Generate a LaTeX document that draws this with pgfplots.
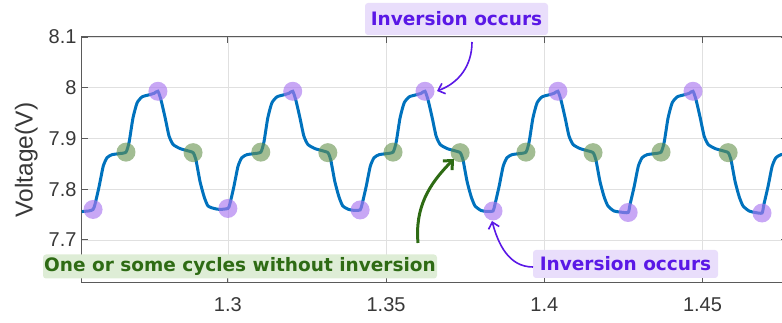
\documentclass[border=0pt]{standalone}
\usepackage{pgfplots}
\pgfplotsset{compat=1.18}
\usepackage{pgfplotstable}
\usepackage{fontspec}
\setmainfont{Liberation Sans}
\newfontfamily\annot{DejaVu Sans}
\usetikzlibrary{arrows.meta}
\definecolor{mblue}{RGB}{0,114,189}
\definecolor{pmark}{RGB}{170,120,240}
\definecolor{gmark}{RGB}{100,145,75}
\definecolor{ptext}{RGB}{90,24,230}
\definecolor{pbg}{RGB}{233,222,251}
\definecolor{gtext}{RGB}{46,107,20}
\definecolor{gbg}{RGB}{222,237,214}
\definecolor{axgray}{RGB}{90,90,90}

\pgfplotstableread{
x y
1.2520 7.755
1.2560 7.757
1.2574 7.760
1.2580 7.770
1.2593 7.805
1.2606 7.845
1.2618 7.862
1.2634 7.868
1.2656 7.870
1.2678 7.873
1.2688 7.893
1.2700 7.940
1.2713 7.970
1.2729 7.982
1.2751 7.986
1.2767 7.989
1.2779 7.993
1.2789 7.975
1.2802 7.940
1.2814 7.905
1.2827 7.888
1.2849 7.880
1.2871 7.876
1.2890 7.872
1.2899 7.858
1.2912 7.815
1.2925 7.785
1.2937 7.767
1.2956 7.762
1.2975 7.760
1.3000 7.762
1.3006 7.770
1.3019 7.805
1.3032 7.845
1.3044 7.862
1.3060 7.868
1.3082 7.870
1.3104 7.873
1.3114 7.893
1.3126 7.940
1.3139 7.970
1.3155 7.982
1.3177 7.986
1.3193 7.989
1.3205 7.993
1.3215 7.975
1.3228 7.940
1.3240 7.905
1.3253 7.888
1.3275 7.880
1.3297 7.876
1.3316 7.872
1.3325 7.858
1.3338 7.815
1.3351 7.785
1.3363 7.767
1.3382 7.760
1.3401 7.758
1.3418 7.759
1.3424 7.770
1.3437 7.805
1.3450 7.845
1.3462 7.862
1.3478 7.868
1.3500 7.870
1.3522 7.873
1.3532 7.893
1.3544 7.940
1.3557 7.970
1.3573 7.982
1.3595 7.986
1.3611 7.989
1.3623 7.993
1.3633 7.975
1.3646 7.940
1.3658 7.905
1.3671 7.888
1.3693 7.880
1.3715 7.876
1.3734 7.872
1.3743 7.858
1.3756 7.815
1.3769 7.785
1.3781 7.767
1.3800 7.758
1.3819 7.756
1.3838 7.757
1.3844 7.770
1.3857 7.805
1.3870 7.845
1.3882 7.862
1.3898 7.868
1.3920 7.870
1.3942 7.873
1.3952 7.893
1.3964 7.940
1.3977 7.970
1.3993 7.982
1.4015 7.986
1.4031 7.989
1.4043 7.993
1.4053 7.975
1.4066 7.940
1.4078 7.905
1.4091 7.888
1.4113 7.880
1.4135 7.876
1.4154 7.872
1.4163 7.858
1.4176 7.815
1.4189 7.785
1.4201 7.767
1.4220 7.757
1.4239 7.755
1.4265 7.754
1.4271 7.770
1.4284 7.805
1.4297 7.845
1.4309 7.862
1.4325 7.868
1.4347 7.870
1.4369 7.873
1.4379 7.893
1.4391 7.940
1.4404 7.970
1.4420 7.982
1.4442 7.986
1.4458 7.989
1.4470 7.993
1.4480 7.975
1.4493 7.940
1.4505 7.905
1.4518 7.888
1.4540 7.880
1.4562 7.876
1.4581 7.872
1.4590 7.858
1.4603 7.815
1.4616 7.785
1.4628 7.767
1.4647 7.757
1.4666 7.754
1.4688 7.753
1.4694 7.770
1.4707 7.805
1.4720 7.845
1.4732 7.862
1.4748 7.868
1.4770 7.870
1.4790 7.872
}\wave

\pgfplotstableread{
x y
1.2574 7.760
1.3000 7.762
1.3418 7.759
1.3838 7.757
1.4265 7.754
1.4688 7.753
1.2779 7.993
1.3205 7.993
1.3623 7.993
1.4043 7.993
1.4470 7.993
}\purplepts

\pgfplotstableread{
x y
1.2678 7.873
1.2890 7.872
1.3104 7.873
1.3316 7.872
1.3522 7.873
1.3734 7.872
1.3942 7.873
1.4154 7.872
1.4369 7.873
1.4581 7.872
}\greenpts

\begin{document}
\begin{tikzpicture}[x=1pt,y=1pt]
\useasboundingbox (0,0) rectangle (782,323);
\begin{axis}[
  at={(82pt,40pt)}, anchor=south west,
  scale only axis, width=705pt, height=246pt,
  xmin=1.2539, xmax=1.4767, ymin=7.615, ymax=8.1,
  xtick={1.3,1.35,1.4,1.45}, xticklabels={1.3,1.35,1.4,1.45},
  ytick={7.7,7.8,7.9,8,8.1}, yticklabels={7.7,7.8,7.9,8,8.1},
  tick label style={font=\fontsize{20}{20}\selectfont, text=black!78},
  xticklabel style={yshift=-11pt},
  yticklabel style={xshift=-2pt},
  ylabel={Voltage(V)},
  ylabel style={font=\fontsize{24.5}{24.5}\selectfont, text=black!78, yshift=4pt},
  grid=major, major grid style={black!12, line width=0.6pt},
  tick align=inside, major tick length=6pt,
  axis line style={axgray, line width=1pt},
  tick style={axgray, line width=0.8pt},
  clip=true,
]
\addplot[mblue, line width=3pt, smooth, tension=0.35] table[x=x,y=y]{\wave};
\addplot[only marks, color=pmark, mark=*, mark size=9.5pt, mark options={draw opacity=0, fill=pmark, fill opacity=0.65}] table[x=x,y=y]{\purplepts};
\addplot[only marks, color=gmark, mark=*, mark size=9.5pt, mark options={draw opacity=0, fill=gmark, fill opacity=0.6}] table[x=x,y=y]{\greenpts};
\end{axis}
% annotations
\node[fill=pbg, rounded corners=3pt, minimum width=183pt, minimum height=32pt, inner sep=0pt,
      text=ptext, font=\annot\bfseries\fontsize{18.5}{18.5}\selectfont] at (456.5,304) {Inversion occurs};
\node[fill=pbg, rounded corners=3pt, minimum width=185pt, minimum height=28pt, inner sep=0pt,
      text=ptext, font=\annot\bfseries\fontsize{18.5}{18.5}\selectfont] at (625.5,59) {Inversion occurs};
\node[fill=gbg, rounded corners=3pt, minimum width=394pt, minimum height=24pt, inner sep=0pt,
      text=gtext, font=\annot\bfseries\fontsize{18.5}{18.5}\selectfont] at (240,56.5) {One or some cycles without inversion};
\draw[ptext, line width=1.6pt, -{Straight Barb[length=6pt,width=11pt]}] (472,281) to[out=-90,in=20] (437,232);
\draw[ptext, line width=1.6pt, -{Straight Barb[length=6pt,width=11pt]}] (533,56) to[out=180,in=-75] (492,102);
\draw[gtext, line width=3pt, -{Straight Barb[length=7pt,width=13pt]}] (418,80) to[out=95,in=-135] (454,164);
\end{tikzpicture}
\end{document}
